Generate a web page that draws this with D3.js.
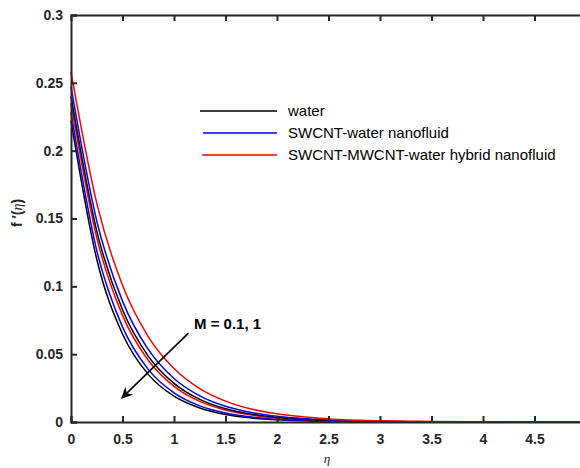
<!DOCTYPE html>
<html>
<head>
<meta charset="utf-8">
<script src="https://cdn.jsdelivr.net/npm/d3@7"></script>
<style>
  body { margin: 0; background: #fff; }
  svg { font-family: "Liberation Sans", Arial, sans-serif; }
</style>
</head>
<body>
<div id="chart"></div>
<script>
// eta grid the curves were read at
var eta = [0, 0.25, 0.5, 0.75, 1, 1.25, 1.5, 1.75, 2, 2.5, 3, 3.5, 4, 5];

// f'(eta), M = 0.1 (upper group) and M = 1 (lower group)
var redM01   = [0.258, 0.1613, 0.1008, 0.0630, 0.0394, 0.0246, 0.0154, 0.0096, 0.0060, 0.0023, 0.0009, 0.0004, 0.0001, 0];
var blueM01  = [0.247, 0.1483, 0.0891, 0.0535, 0.0321, 0.0193, 0.0116, 0.0070, 0.0042, 0.0015, 0.0005, 0.0002, 0.0001, 0];
var blackM01 = [0.240, 0.1409, 0.0827, 0.0486, 0.0285, 0.0167, 0.0098, 0.0058, 0.0034, 0.0012, 0.0004, 0.0001, 0, 0];
var redM1    = [0.235, 0.1359, 0.0786, 0.0455, 0.0263, 0.0152, 0.0088, 0.0051, 0.0029, 0.0010, 0.0003, 0.0001, 0, 0];
var blueM1   = [0.228, 0.1264, 0.0701, 0.0388, 0.0215, 0.0119, 0.0066, 0.0037, 0.0020, 0.0006, 0.0002, 0.0001, 0, 0];
var blackM1  = [0.222, 0.1200, 0.0649, 0.0351, 0.0190, 0.0103, 0.0055, 0.0030, 0.0016, 0.0005, 0.0001, 0, 0, 0];

var legendNames = ["water", "SWCNT-water nanofluid", "SWCNT-MWCNT-water hybrid nanofluid"];
var xTicks = [0, 0.5, 1, 1.5, 2, 2.5, 3, 3.5, 4, 4.5];
var yTicks = [0, 0.05, 0.1, 0.15, 0.2, 0.25, 0.3];

var series = [
  { v: blackM1, c: "#000000" },
  { v: blueM1, c: "#0000ff" },
  { v: redM1, c: "#ff0000" },
  { v: blackM01, c: "#000000" },
  { v: blueM01, c: "#0000ff" },
  { v: redM01, c: "#ff0000" }
];

var W = 580, H = 468;
var plot = { left: 71, right: 586, top: 15, bottom: 422 };
var axisColor = "#262626";

var svg = d3.select("#chart").append("svg")
  .attr("width", W)
  .attr("height", H);

var x = d3.scaleLinear().domain([0, 5]).range([plot.left, plot.right]);
var y = d3.scaleLinear().domain([0, 0.3]).range([plot.bottom, plot.top]);

// curves
var line = d3.line()
  .x(function (d) { return x(d[0]); })
  .y(function (d) { return y(d[1]); })
  .curve(d3.curveMonotoneX);

svg.append("g")
  .selectAll("path")
  .data(series)
  .enter()
  .append("path")
  .attr("d", function (s) { return line(eta.map(function (e, i) { return [e, s.v[i]]; })); })
  .attr("fill", "none")
  .attr("stroke", function (s) { return s.c; })
  .attr("stroke-width", 1.5);

// axes (ticks inward, matlab box style)
var xAxis = svg.append("g")
  .attr("transform", "translate(0," + plot.bottom + ")")
  .call(d3.axisBottom(x).tickValues(xTicks).tickSize(-6).tickPadding(12).tickFormat(d3.format("")));
var xTop = svg.append("g")
  .attr("transform", "translate(0," + plot.top + ")")
  .call(d3.axisTop(x).tickValues(xTicks).tickSize(-6).tickFormat(""));
var yAxis = svg.append("g")
  .attr("transform", "translate(" + plot.left + ",0)")
  .call(d3.axisLeft(y).tickValues(yTicks).tickSize(-6).tickPadding(8).tickFormat(d3.format("")));

[xAxis, xTop, yAxis].forEach(function (g) {
  g.select(".domain").attr("stroke", axisColor).attr("stroke-width", 2);
  g.selectAll(".tick line").attr("stroke", axisColor).attr("stroke-width", 2);
  g.selectAll(".tick text")
    .attr("fill", axisColor)
    .style("font-size", "14px")
    .style("font-weight", "bold")
    .style("font-family", "'Liberation Sans', Arial, sans-serif");
});
xTop.selectAll(".tick").filter(function (d) { return d === 0; }).remove();

// axis labels
svg.append("text")
  .attr("x", 327)
  .attr("y", 463)
  .attr("text-anchor", "middle")
  .style("font-size", "13px")
  .style("font-style", "italic")
  .style("font-family", "'Liberation Serif', 'Times New Roman', serif")
  .attr("fill", axisColor)
  .text("η");

var yl = svg.append("text")
  .attr("transform", "translate(22,213) rotate(-90)")
  .attr("text-anchor", "middle")
  .style("font-size", "14px")
  .style("font-weight", "bold")
  .attr("fill", axisColor);
yl.append("tspan").text("f ′(");
yl.append("tspan").style("font-style", "italic").style("font-weight", "normal")
  .style("font-family", "'Liberation Serif', serif").text("η");
yl.append("tspan").text(")");

// legend
var legend = svg.append("g");
var legColors = ["#000000", "#0000ff", "#ff0000"];
var legX = [200, 203, 202];
legendNames.forEach(function (name, i) {
  var ly = 111 + i * 22;
  legend.append("line")
    .attr("x1", legX[i]).attr("x2", 277)
    .attr("y1", ly).attr("y2", ly)
    .attr("stroke", legColors[i])
    .attr("stroke-width", 1.5);
  legend.append("text")
    .attr("x", 288)
    .attr("y", ly + 5)
    .style("font-size", "15px")
    .attr("fill", "#000")
    .text(name);
});

// annotation arrow
var defs = svg.append("defs");
defs.append("marker")
  .attr("id", "head")
  .attr("viewBox", "0 0 10 10")
  .attr("refX", 9)
  .attr("refY", 5)
  .attr("markerWidth", 9)
  .attr("markerHeight", 7)
  .attr("markerUnits", "strokeWidth")
  .attr("orient", "auto")
  .append("path")
  .attr("d", "M0,0 L10,5 L0,10 L3,5 Z")
  .attr("fill", "#000");

svg.append("line")
  .attr("x1", x(1.14)).attr("y1", y(0.0655))
  .attr("x2", x(0.495)).attr("y2", y(0.0178))
  .attr("stroke", "#000")
  .attr("stroke-width", 1.6)
  .attr("marker-end", "url(#head)");

svg.append("text")
  .attr("x", 194)
  .attr("y", 329)
  .style("font-size", "15px")
  .style("font-weight", "bold")
  .attr("fill", "#000")
  .text("M = 0.1, 1");
</script>
</body>
</html>
